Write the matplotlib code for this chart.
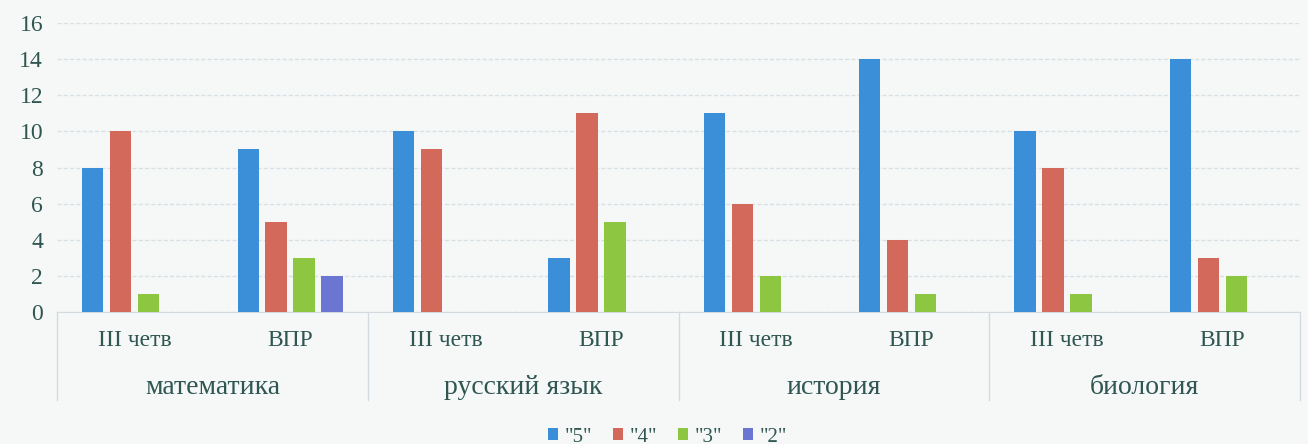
import matplotlib.pyplot as plt
import numpy as np
from matplotlib.transforms import blended_transform_factory

# Data
subjects = ["математика", "русский язык", "история", "биология"]
periods = ["III четв", "ВПР"]
series_names = ['"5"', '"4"', '"3"', '"2"']
grade5 = [8, 9, 10, 3, 11, 14, 10, 14]
grade4 = [10, 5, 9, 11, 6, 4, 8, 3]
grade3 = [1, 3, 0, 5, 2, 1, 1, 2]
grade2 = [0, 2, 0, 0, 0, 0, 0, 0]
colors = ["#3b8fd9", "#d2695b", "#8dc641", "#6a76d2"]

plt.rcParams['font.family'] = ['Liberation Serif', 'DejaVu Serif']
text_color = "#2f5651"
bg = "#f6f8f8"

fig = plt.figure(figsize=(13.08, 4.44), dpi=100, facecolor=bg)
ax = fig.add_axes([0.0436, 0.2973, 0.9504, 0.6507], facecolor=bg)

x = np.arange(len(grade5))
step = 0.18
bar_w = 0.137
all_series = [grade5, grade4, grade3, grade2]
for i, (vals, c, name) in enumerate(zip(all_series, colors, series_names)):
    ax.bar(x + (i - 1.5) * step, vals, width=bar_w, color=c, label=name, zorder=3)

ax.set_xlim(-0.5, len(x) - 0.5)
ax.set_ylim(0, 16)
ax.set_yticks(range(0, 17, 2))
ax.tick_params(axis='y', length=0, labelsize=17, labelcolor=text_color, pad=10)
ax.set_xticks([])
ax.grid(axis='y', color="#d8e0e4", linestyle=(0, (3, 1.5)), linewidth=1, zorder=0)
for s in ['top', 'right', 'left']:
    ax.spines[s].set_visible(False)
ax.spines['bottom'].set_color("#d3dbe0")

# two-level category labels
trans = blended_transform_factory(ax.transData, ax.transAxes)
for k in range(len(x)):
    ax.text(k, -0.1, periods[k % 2], transform=trans, ha='center', va='center',
            fontsize=17, color=text_color)
for j, subj in enumerate(subjects):
    ax.text(2 * j + 0.5, -0.26, subj, transform=trans, ha='center', va='center',
            fontsize=20, color=text_color)
for b in [-0.5, 1.5, 3.5, 5.5, 7.5]:
    ax.plot([b, b], [0, -0.305], transform=trans, color="#d3dbe0", lw=1, clip_on=False)

fig.legend(loc='lower center', bbox_to_anchor=(0.51, -0.048), ncol=4, frameon=False,
           fontsize=15, handlelength=0.5, handleheight=0.5, handletextpad=0.3,
           columnspacing=1.0, labelcolor=text_color)

fig.savefig("out.png", dpi=100, facecolor=bg)
